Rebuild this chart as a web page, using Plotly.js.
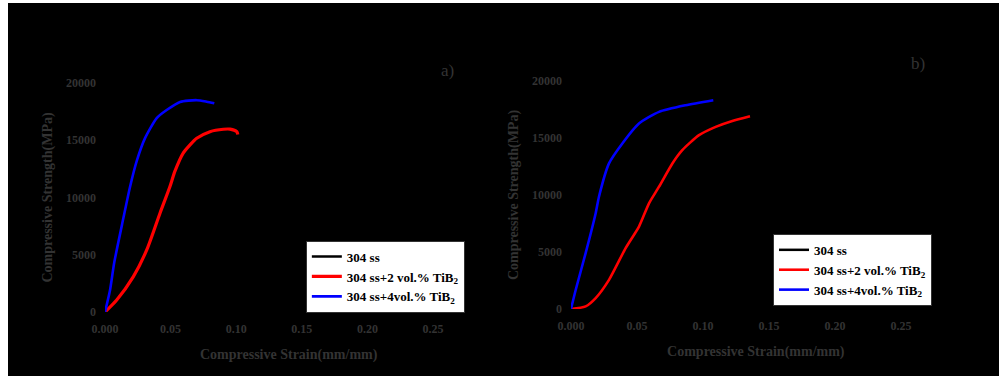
<!DOCTYPE html>
<html>
<head>
<meta charset="utf-8">
<script src="https://cdn.plot.ly/plotly-3.0.1.min.js"></script>
<style>
html,body{margin:0;padding:0;background:#ffffff;width:999px;height:377px;overflow:hidden;}
#chart{position:absolute;left:8px;top:3px;width:991px;height:373px;}
</style>
</head>
<body>
<div id="chart"></div>
<script>
// Panel a
const aBlueStrain = [0, 0.0038, 0.0070, 0.0140, 0.0190, 0.0242, 0.0305, 0.0394, 0.0470, 0.0572, 0.0699, 0.0775, 0.0833];
const aBlueStress = [0, 1900, 4300, 8200, 10900, 13200, 15190, 16940, 17640, 18350, 18500, 18370, 18230];
const aRedStrain = [0, 0.0089, 0.0216, 0.0318, 0.0419, 0.0495, 0.0533, 0.0597, 0.0648, 0.0699, 0.0800, 0.0902, 0.0953, 0.1004, 0.1012];
const aRedStress = [0, 1050, 3090, 5420, 8630, 10960, 12300, 13900, 14600, 15170, 15750, 15960, 15970, 15750, 15500];
// Panel b
const bBlueStrain = [0, 0.0036, 0.0111, 0.0187, 0.0212, 0.0288, 0.0389, 0.0515, 0.0667, 0.0869, 0.1078];
const bBlueStress = [0, 1690, 4900, 8400, 9850, 12770, 14520, 16270, 17290, 17870, 18310];
const bRedStrain = [0, 0.0111, 0.0187, 0.0288, 0.0414, 0.0515, 0.0591, 0.0667, 0.0768, 0.0843, 0.0970, 0.1096, 0.1222, 0.1356];
const bRedStress = [0, 230, 960, 2560, 5340, 7230, 9270, 10730, 12770, 13940, 15250, 15980, 16500, 16910];

const seriesNames = ["304 ss", "304 ss+2 vol.% TiB<sub>2</sub>", "304 ss+4vol.% TiB<sub>2</sub>"];
const xTickVals = [0, 0.05, 0.10, 0.15, 0.20, 0.25];
const xTickText = ["0.000", "0.05", "0.10", "0.15", "0.20", "0.25"];
const yTickVals = [0, 5000, 10000, 15000, 20000];
const yTickText = ["0", "5000", "10000", "15000", "20000"];
const xTitle = "Compressive Strain(mm/mm)";
const yTitle = "Compressive Strength(MPa)";
const panelLabels = ["a)", "b)"];

const dim = "#333333";
const serif = "Liberation Serif, Times New Roman, serif";

const traces = [
  {x: [null], y: [null], name: seriesNames[0], mode: "lines", line: {color: "#000000", width: 2.5}, xaxis: "x", yaxis: "y", legend: "legend", showlegend: true},
  {x: aRedStrain, y: aRedStress, name: seriesNames[1], mode: "lines", line: {color: "#ff0000", width: 3.2, shape: "spline", smoothing: 0.7}, xaxis: "x", yaxis: "y", legend: "legend"},
  {x: aBlueStrain, y: aBlueStress, name: seriesNames[2], mode: "lines", line: {color: "#0000ff", width: 2.6, shape: "spline", smoothing: 0.6}, xaxis: "x", yaxis: "y", legend: "legend"},
  {x: [null], y: [null], name: seriesNames[0], mode: "lines", line: {color: "#000000", width: 2.5}, xaxis: "x2", yaxis: "y2", legend: "legend2", showlegend: true},
  {x: bRedStrain, y: bRedStress, name: seriesNames[1], mode: "lines", line: {color: "#ff0000", width: 2.6, shape: "spline", smoothing: 0.6}, xaxis: "x2", yaxis: "y2", legend: "legend2"},
  {x: bBlueStrain, y: bBlueStress, name: seriesNames[2], mode: "lines", line: {color: "#0000ff", width: 2.6, shape: "spline", smoothing: 0.6}, xaxis: "x2", yaxis: "y2", legend: "legend2"}
];

function xAxis(domain, anchor) {
  return {
    domain: domain, anchor: anchor, range: [0, 0.28],
    tickvals: xTickVals, ticktext: xTickText,
    showgrid: false, zeroline: false, showline: false, ticks: "",
    tickfont: {family: serif, size: 12, color: dim, weight: "bold"},
    ticklabelstandoff: 8,
    title: {text: xTitle, font: {family: serif, size: 14, color: dim, weight: "bold"}, standoff: 14},
    automargin: false, fixedrange: true
  };
}
function yAxis(domain, anchor) {
  return {
    domain: domain, anchor: anchor, range: [0, 20000],
    tickvals: yTickVals, ticktext: yTickText,
    showgrid: false, zeroline: false, showline: false, ticks: "",
    tickfont: {family: serif, size: 12, color: dim, weight: "bold"},
    ticklabelstandoff: 8,
    title: {text: yTitle, font: {family: serif, size: 14, color: dim, weight: "bold"}, standoff: 10},
    automargin: false, fixedrange: true
  };
}

const legendCommon = {
  bgcolor: "#ffffff", bordercolor: "#333333", borderwidth: 1,
  font: {family: serif, size: 13, color: "#000000", weight: "bold"},
  xref: "paper", yref: "paper", xanchor: "right", yanchor: "bottom",
  tracegroupgap: 0, itemwidth: 30
};

const layout = {
  width: 991, height: 373,
  margin: {l: 0, r: 0, t: 0, b: 0},
  paper_bgcolor: "#000000", plot_bgcolor: "#000000",
  showlegend: true,
  xaxis: xAxis([0.0979, 0.4686], "y"),
  yaxis: yAxis([0.1716, 0.7855], "x"),
  xaxis2: xAxis([0.5681, 0.9411], "y2"),
  yaxis2: yAxis([0.1796, 0.7909], "x2"),
  legend: Object.assign({x: 0.461, y: 0.170}, legendCommon),
  legend2: Object.assign({x: 0.9324, y: 0.188}, legendCommon),
  annotations: [
    {text: panelLabels[0], xref: "paper", yref: "paper", x: 439/991, y: (373 - 67)/373, showarrow: false, xanchor: "center", yanchor: "middle", font: {family: serif, size: 17, color: dim}},
    {text: panelLabels[1], xref: "paper", yref: "paper", x: 910/991, y: (373 - 60)/373, showarrow: false, xanchor: "center", yanchor: "middle", font: {family: serif, size: 17, color: dim}}
  ]
};

Plotly.newPlot("chart", traces, layout, {displayModeBar: false, staticPlot: true});
</script>
</body>
</html>
